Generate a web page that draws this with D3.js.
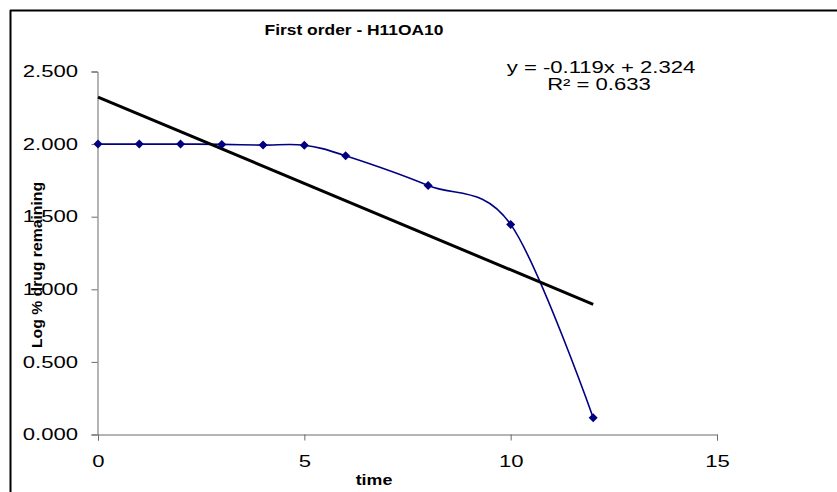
<!DOCTYPE html>
<html><head><meta charset="utf-8">
<script src="https://cdn.jsdelivr.net/npm/d3@7"></script>
<style>body{margin:0;background:#fff}svg{display:block}text{font-family:Arial,"Liberation Sans",sans-serif}</style>
</head><body><svg id="c" width="837" height="492"></svg>
<script>
const times = [0, 1, 2, 3, 4, 5, 6, 8, 10, 12];
const logRemaining = [2.000, 2.000, 2.000, 1.998, 1.993, 1.992, 1.920, 1.715, 1.447, 0.115];
const trendSlope = -0.119, trendIntercept = 2.324;
const xTicks = [0, 5, 10, 15];
const yTicks = [0, 0.5, 1.0, 1.5, 2.0, 2.5];
const title = "First order - H11OA10";
const eqLines = ["y = -0.119x + 2.324", "R² = 0.633"];

const SX = 1.38; // horizontal stretch of regular text in reference
const svg = d3.select("#c");
const x = d3.scaleLinear().domain([0, 15]).range([98, 717]);
const y = d3.scaleLinear().domain([0, 2.5]).range([434.5, 71.5]);

// frame
svg.append("line").attr("x1",10).attr("y1",10.5).attr("x2",837).attr("y2",10.5).attr("stroke","#000").attr("stroke-width",2);
svg.append("line").attr("x1",10.5).attr("y1",10).attr("x2",10.5).attr("y2",492).attr("stroke","#000").attr("stroke-width",2);

// axes
const xa = svg.append("g").attr("transform","translate(0,434.5)")
  .call(d3.axisBottom(x).tickValues(xTicks).tickSize(6).tickPadding(15).tickFormat(d3.format("d")));
const ya = svg.append("g").attr("transform","translate(97.5,0)")
  .call(d3.axisLeft(y).tickValues(yTicks).tickSize(6).tickPadding(12).tickFormat(d3.format(".3f")));
[xa, ya].forEach(a => {
  a.select(".domain").attr("stroke","#6b6b6b");
  a.selectAll(".tick line").attr("stroke","#6b6b6b");
  a.selectAll("text").attr("font-size",16).attr("fill","#000")
    .attr("font-family","Arial, 'Liberation Sans', sans-serif")
    .attr("transform",`scale(${SX},1)`);
});
ya.selectAll("text").attr("x", -19.5/SX);

// data line
const pts = times.map((t,i)=>[t, logRemaining[i]]);
svg.append("path").datum(pts)
  .attr("d", d3.line().x(d=>x(d[0])).y(d=>y(d[1])).curve(d3.curveCardinal.tension(0)))
  .attr("fill","none").attr("stroke","#000080").attr("stroke-width",1.6);

// trendline
svg.append("line")
  .attr("x1", x(0)).attr("y1", y(trendIntercept))
  .attr("x2", x(12)).attr("y2", y(trendIntercept + trendSlope*12))
  .attr("stroke","#000").attr("stroke-width",3);

// markers
svg.selectAll("path.m").data(pts).enter().append("path").attr("class","m")
  .attr("transform", d=>`translate(${x(d[0])},${y(d[1])})`)
  .attr("d","M0,-4.5L4.5,0L0,4.5L-4.5,0Z").attr("fill","#000080");

// title
svg.append("text").attr("transform","translate(354,35) scale(1.16,1)").attr("text-anchor","middle")
  .attr("font-size",15).attr("font-weight","bold").text(title);

// equation
svg.append("text").attr("transform",`translate(601,73) scale(${SX},1)`).attr("text-anchor","middle").attr("font-size",16).text(eqLines[0]);
svg.append("text").attr("transform",`translate(599,90) scale(${SX},1)`).attr("text-anchor","middle").attr("font-size",16).text(eqLines[1]);

// axis titles
svg.append("text").attr("transform","translate(374,485) scale(1.19,1)").attr("text-anchor","middle")
  .attr("font-size",15).attr("font-weight","bold").text("time");
svg.append("text").attr("transform","translate(42,265) rotate(-90) scale(1.05,1)").attr("text-anchor","middle")
  .attr("font-size",15).attr("font-weight","bold").text("Log % drug remaining");
</script></body></html>
